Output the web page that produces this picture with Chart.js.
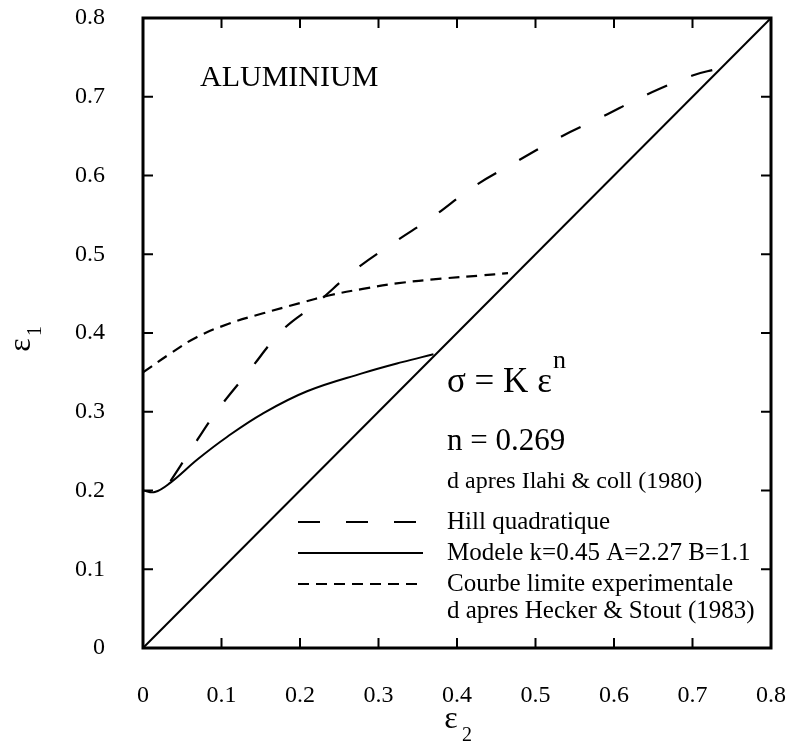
<!DOCTYPE html>
<html>
<head>
<meta charset="utf-8">
<script src="https://cdn.jsdelivr.net/npm/chart.js@4"></script>
<style>
  body { margin: 0; background: #fff; }
  #wrap { width: 789px; height: 752px; }
</style>
</head>
<body>
<div id="wrap"><canvas id="chart" width="789" height="752"></canvas></div>
<script>
// Data (eps2, eps1)
const diagX = [0, 0.8];
const diagY = [0, 0.8];

const hillX = [0.035, 0.06, 0.092, 0.136, 0.178, 0.22, 0.27, 0.32, 0.37, 0.42, 0.473, 0.53, 0.584, 0.64, 0.70, 0.73];
const hillY = [0.212, 0.25, 0.298, 0.353, 0.404, 0.437, 0.48, 0.515, 0.548, 0.585, 0.616, 0.648, 0.674, 0.702, 0.727, 0.735];

const modelX = [0, 0.015, 0.035, 0.07, 0.107, 0.153, 0.209, 0.28, 0.33, 0.37];
const modelY = [0.2, 0.198, 0.21, 0.24, 0.268, 0.298, 0.326, 0.349, 0.363, 0.373];

const expX = [0, 0.035, 0.069, 0.11, 0.153, 0.2, 0.238, 0.28, 0.323, 0.38, 0.43, 0.465];
const expY = [0.35, 0.374, 0.395, 0.412, 0.425, 0.438, 0.448, 0.456, 0.463, 0.469, 0.473, 0.476];

const tickVals = [0, 0.1, 0.2, 0.3, 0.4, 0.5, 0.6, 0.7, 0.8];

const legendLabels = ['Hill quadratique', 'Modele k=0.45 A=2.27 B=1.1', 'Courbe limite experimentale'];

const toPts = (xs, ys) => xs.map((x, i) => ({ x: x, y: ys[i] }));
const FONT = '"Liberation Serif", "DejaVu Serif", serif';

const datasets = [
    { label: 'diag', data: toPts(diagX, diagY), borderColor: '#000', borderWidth: 2, tension: 0 },
    { label: legendLabels[0], data: toPts(hillX, hillY), borderColor: '#000', borderWidth: 2.2, borderDash: [22, 26], tension: 0.4 },
    { label: legendLabels[1], data: toPts(modelX, modelY), borderColor: '#000', borderWidth: 2, tension: 0.4 },
    { label: legendLabels[2], data: toPts(expX, expY), borderColor: '#000', borderWidth: 2.2, borderDash: [11, 7], tension: 0.4 }
];
datasets.forEach(d => {
    d.showLine = true;
    d.pointRadius = 0;
    d.fill = false;
});

// frame, inward ticks, annotations and legend
const decor = {
    id: 'decor',
    afterDraw(chart) {
        const { ctx, chartArea: a, scales } = chart;
        const xs = scales.x, ys = scales.y;
        ctx.save();
        ctx.strokeStyle = '#000';
        ctx.lineWidth = 3;
        ctx.strokeRect(a.left, a.top, a.right - a.left, a.bottom - a.top);

        ctx.lineWidth = 2;
        ctx.beginPath();
        tickVals.slice(1, -1).forEach(v => {
            const px = xs.getPixelForValue(v);
            ctx.moveTo(px, a.bottom); ctx.lineTo(px, a.bottom - 10);
            ctx.moveTo(px, a.top); ctx.lineTo(px, a.top + 10);
            const py = ys.getPixelForValue(v);
            ctx.moveTo(a.left, py); ctx.lineTo(a.left + 10, py);
            ctx.moveTo(a.right, py); ctx.lineTo(a.right - 10, py);
        });
        ctx.stroke();

        ctx.fillStyle = '#000';
        ctx.textBaseline = 'alphabetic';
        ctx.textAlign = 'left';
        ctx.font = '30px ' + FONT;
        ctx.fillText('ALUMINIUM', 200, 86);

        ctx.font = '35px ' + FONT;
        ctx.fillText('\u03c3 = K \u03b5', 447, 392);
        ctx.font = '26px ' + FONT;
        ctx.fillText('n', 553, 368);

        ctx.font = '31px ' + FONT;
        ctx.fillText('n = 0.269', 447, 450);
        ctx.font = '24px ' + FONT;
        ctx.fillText('d apres Ilahi & coll (1980)', 447, 488);

        // legend
        const rows = [522, 553, 584];
        [1, 2, 3].forEach((di, i) => {
            const ds = chart.data.datasets[di];
            ctx.setLineDash(ds.borderDash || []);
            ctx.lineWidth = 2.2;
            ctx.beginPath();
            ctx.moveTo(298, rows[i]);
            ctx.lineTo(423, rows[i]);
            ctx.stroke();
            ctx.setLineDash([]);
            ctx.font = '25px ' + FONT;
            ctx.textBaseline = 'middle';
            ctx.fillText(ds.label, 447, rows[i]);
        });
        ctx.fillText('d apres Hecker & Stout (1983)', 447, 611);

        // axis titles
        ctx.textAlign = 'center';
        ctx.font = '32px ' + FONT;
        ctx.fillText('\u03b5', 451, 720);
        ctx.font = '20px ' + FONT;
        ctx.fillText('2', 467, 736);

        ctx.translate(22, 345);
        ctx.rotate(-Math.PI / 2);
        ctx.font = '32px ' + FONT;
        ctx.fillText('\u03b5', 0, 0);
        ctx.font = '20px ' + FONT;
        ctx.fillText('1', 14, 14);
        ctx.restore();
    }
};

const tickFont = { family: FONT, size: 24 };

new Chart(document.getElementById('chart'), {
    type: 'scatter',
    data: { datasets: datasets },
    options: {
        responsive: false,
        animation: false,
        layout: { padding: { top: 18, right: 18, left: 0, bottom: 0 } },
        plugins: { legend: { display: false }, tooltip: { enabled: false } },
        scales: {
            x: {
                type: 'linear', min: 0, max: 0.8,
                grid: { display: false, drawTicks: false },
                border: { display: false },
                afterFit: s => { s.height = 104; s.paddingLeft = 0; s.paddingRight = 0; },
                afterBuildTicks: s => { s.ticks = tickVals.map(v => ({ value: v })); },
                ticks: { color: '#000', font: tickFont, padding: 33, maxRotation: 0 }
            },
            y: {
                type: 'linear', min: 0, max: 0.8,
                grid: { display: false, drawTicks: false },
                border: { display: false },
                afterFit: s => { s.width = 143; s.paddingTop = 0; s.paddingBottom = 0; },
                afterBuildTicks: s => { s.ticks = tickVals.map(v => ({ value: v })); },
                ticks: { color: '#000', font: tickFont, padding: 38 }
            }
        }
    },
    plugins: [decor]
});
</script>
</body>
</html>
